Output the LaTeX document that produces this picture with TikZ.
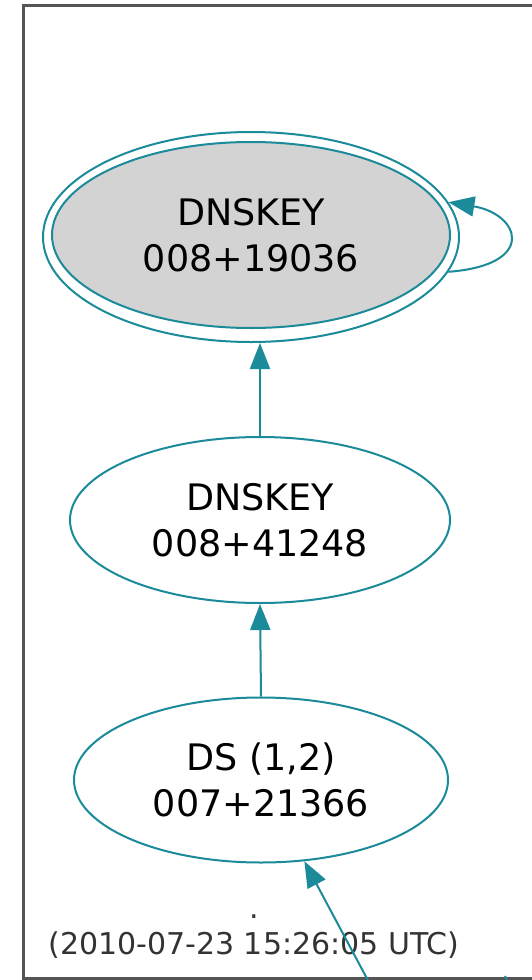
\documentclass[tikz,border=0pt]{standalone}
\usepackage{fontspec}
\setmainfont{DejaVu Sans}
\usetikzlibrary{shapes.geometric,arrows.meta}
\definecolor{edgeteal}{HTML}{1B8A99}
\definecolor{framegray}{HTML}{555555}
\tikzset{
  rec/.style={ellipse, draw=edgeteal, line width=2pt, inner sep=0pt, align=center,
    font=\fontsize{36.5}{46}\selectfont},
  conn/.style={draw=edgeteal, line width=2pt, -{Triangle[length=26pt,width=20pt]}},
}
\begin{document}
\begin{tikzpicture}[x=1pt,y=-1pt]
\useasboundingbox (0,0) rectangle (532,980);
\clip (0,0) rectangle (532,980);
\fill[white] (0,0) rectangle (532,980);
\draw[framegray, line width=3pt] (560,5) -- (23,5) -- (23,978) -- (560,978);
% nodes
\node[rec, minimum width=416pt, minimum height=210pt] (k1o) at (251,237) {};
\node[rec, fill={rgb,255:red,211;green,211;blue,211}, minimum width=398pt, minimum height=186pt] (k1) at (251,235) {DNSKEY\\008+19036};
\node[rec, minimum width=380pt, minimum height=166pt] (k2) at (260,520) {DNSKEY\\008+41248};
\node[rec, minimum width=374pt, minimum height=165pt] (ds) at (261,780) {DS (1,2)\\007+21366};
\node[align=center, text=black!80, font=\fontsize{30}{36}\selectfont, inner sep=0pt] (lbl) at (254,937) {.\\(2010-07-23 15:26:05 UTC)};
\coordinate (src) at (372,988);
\coordinate (other) at (512,990);
\coordinate (otherend) at (505,976);
% edges
\draw[conn] (k2.north) -- (k1o.south -| k2.north);
\draw[conn] (ds.north) -- (k2.south);
\draw[conn] (src) -- (ds);
\draw[conn] (k1o.-10) .. controls (538,265) and (520,214) .. (k1o.10);
\draw[draw=edgeteal, line width=2pt] (other) -- (otherend);
\end{tikzpicture}
\end{document}
